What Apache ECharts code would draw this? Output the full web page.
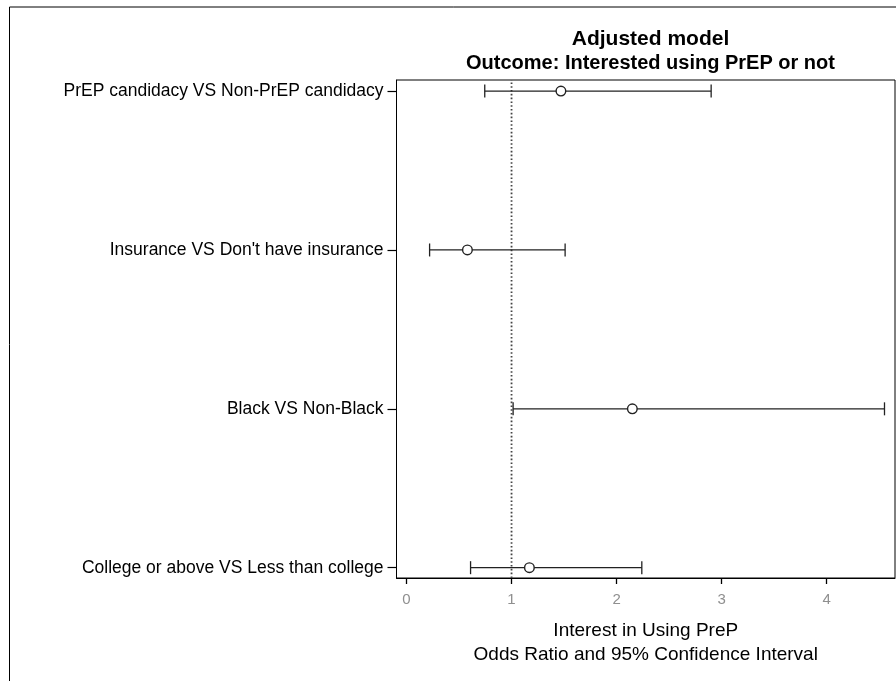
<!DOCTYPE html>
<html>
<head>
<meta charset="utf-8">
<script src="https://cdn.jsdelivr.net/npm/echarts@6/dist/echarts.min.js"></script>
<style>html,body{margin:0;padding:0;background:#fff}#c{width:896px;height:681px}</style>
</head>
<body>
<div id="c"></div>
<script>
const categories = ["College or above VS Less than college", "Black VS Non-Black", "Insurance VS Don't have insurance", "PrEP candidacy VS Non-PrEP candidacy"];
const oddsRatio = [1.17, 2.15, 0.58, 1.47];
const lowerCI = [0.61, 1.015, 0.22, 0.745];
const upperCI = [2.24, 4.55, 1.51, 2.90];
const xTicks = [0, 1, 2, 3, 4];
const refValue = 1;

const rows = categories.map((c, i) => [i, oddsRatio[i], lowerCI[i], upperCI[i]]);
const font = '"Liberation Sans", Arial, sans-serif';

const chart = echarts.init(document.getElementById('c'));
chart.setOption({
  animation: false,
  backgroundColor: '#fff',
  graphic: [{
    type: 'rect', shape: {x: 9.5, y: 7, width: 1000, height: 1000},
    style: {fill: 'none', stroke: '#000', lineWidth: 1}, silent: true, z: -10
  }],
  title: [
    {text: 'Adjusted model', left: 645.5, top: 24, textAlign: 'center',
     textStyle: {fontFamily: font, fontSize: 21, fontWeight: 'bold', color: '#000'}},
    {text: 'Outcome: Interested using PrEP or not', left: 645.5, top: 48, textAlign: 'center',
     textStyle: {fontFamily: font, fontSize: 20, fontWeight: 'bold', color: '#000'}}
  ],
  grid: {left: 396.5, top: 80, right: 1, bottom: 103, show: true, borderColor: '#000', borderWidth: 1, containLabel: false},
  xAxis: {
    type: 'value', min: -0.095, max: 4.65,
    name: 'Interest in Using PreP\nOdds Ratio and 95% Confidence Interval',
    nameLocation: 'middle', nameGap: 41,
    nameTextStyle: {fontFamily: font, fontSize: 19, color: '#000', lineHeight: 24},
    axisLine: {show: true, onZero: false, lineStyle: {color: '#000', width: 1}},
    axisTick: {show: true, length: 6, customValues: xTicks, lineStyle: {color: '#000', width: 1.3}},
    axisLabel: {customValues: xTicks, color: '#8f8f8f', fontFamily: font, fontSize: 15, margin: 14},
    splitLine: {show: false}
  },
  yAxis: {
    type: 'value', min: -0.065, max: 3.07,
    axisLine: {show: true, onZero: false, lineStyle: {color: '#000', width: 1}},
    axisTick: {show: true, length: 9, customValues: [0, 1, 2, 3], lineStyle: {color: '#000', width: 1.2}},
    axisLabel: {customValues: [0, 1, 2, 3], formatter: v => categories[Math.round(v)],
      color: '#000', fontFamily: font, fontSize: 17.5, margin: 13},
    splitLine: {show: false}
  },
  series: [
    {
      type: 'line', data: [[refValue, -0.065], [refValue, 3.07]], symbol: 'none',
      lineStyle: {color: '#444', width: 1.8, type: [1.6, 2.2]}, silent: true, z: 1
    },
    {
      type: 'custom', data: rows, z: 5,
      renderItem: function (params, api) {
        const y = api.value(0);
        const pL = api.coord([api.value(2), y]);
        const pR = api.coord([api.value(3), y]);
        const pM = api.coord([api.value(1), y]);
        const h = 6.5, r = 4.8;
        const st = {stroke: '#222', lineWidth: 1.3, fill: 'none'};
        return {type: 'group', children: [
          {type: 'line', shape: {x1: pL[0], y1: pL[1], x2: pR[0], y2: pR[1]}, style: st},
          {type: 'line', shape: {x1: pL[0], y1: pL[1] - h, x2: pL[0], y2: pL[1] + h}, style: st},
          {type: 'line', shape: {x1: pR[0], y1: pR[1] - h, x2: pR[0], y2: pR[1] + h}, style: st},
          {type: 'circle', shape: {cx: pM[0], cy: pM[1], r: r}, style: {stroke: '#222', lineWidth: 1.4, fill: '#fff'}}
        ]};
      }
    }
  ]
});
</script>
</body>
</html>
